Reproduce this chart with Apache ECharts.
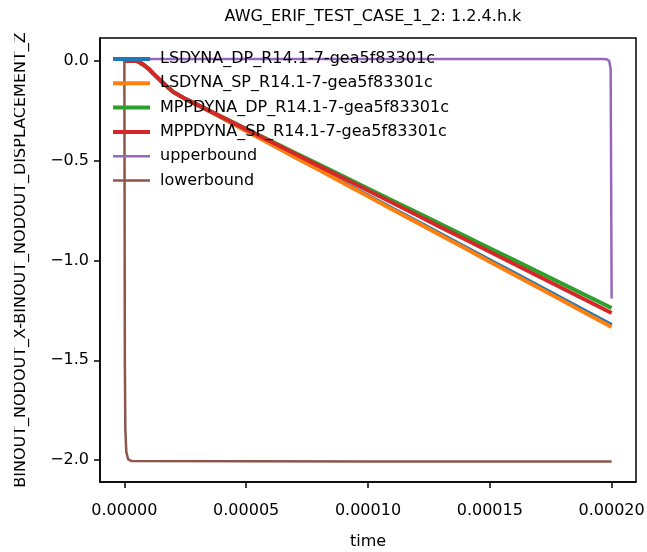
<!DOCTYPE html>
<html>
<head>
<meta charset="utf-8">
<script src="https://cdn.jsdelivr.net/npm/echarts@6/dist/echarts.min.js"></script>
<style>html,body{margin:0;padding:0;background:#fff;}#c{width:647px;height:552px;}</style>
</head>
<body>
<div id="c"></div>
<script>
// ---- data ----
const seriesNames = ["LSDYNA_DP_R14.1-7-gea5f83301c", "LSDYNA_SP_R14.1-7-gea5f83301c", "MPPDYNA_DP_R14.1-7-gea5f83301c", "MPPDYNA_SP_R14.1-7-gea5f83301c", "upperbound", "lowerbound"];
const tMain = [0, 2e-6, 4e-6, 5e-6, 6e-6, 8e-6, 1e-5, 1.2e-5, 1.5e-5, 2e-5, 2.5e-5, 3e-5,
  4e-5, 5e-5, 6e-5, 7e-5, 8e-5, 9e-5, 1e-4, 1.1e-4, 1.2e-4, 1.3e-4, 1.4e-4, 1.5e-4, 1.6e-4, 1.7e-4, 1.8e-4, 1.9e-4, 2e-4];
const lsdynaDP = [0, 0, 0, 0, -0.005, -0.02, -0.04, -0.065, -0.1, -0.155, -0.19, -0.22,
  -0.285, -0.350, -0.415, -0.480, -0.544, -0.609, -0.674, -0.739, -0.804, -0.869, -0.934, -0.999, -1.063, -1.128, -1.193, -1.258, -1.323];
const lsdynaSP = [0, 0, 0, 0, -0.005, -0.02, -0.04, -0.065, -0.1, -0.155, -0.19, -0.22,
  -0.285, -0.351, -0.416, -0.482, -0.547, -0.613, -0.678, -0.744, -0.809, -0.875, -0.940, -1.006, -1.071, -1.137, -1.202, -1.268, -1.333];
const mppdynaDP = [0, 0, 0, 0, -0.005, -0.02, -0.04, -0.065, -0.1, -0.155, -0.19, -0.22,
  -0.280, -0.340, -0.400, -0.460, -0.519, -0.579, -0.639, -0.699, -0.759, -0.819, -0.879, -0.939, -0.998, -1.058, -1.118, -1.178, -1.238];
const mppdynaSP = [0, 0, 0, 0, -0.005, -0.02, -0.04, -0.065, -0.1, -0.155, -0.19, -0.22,
  -0.281, -0.343, -0.404, -0.465, -0.527, -0.588, -0.649, -0.711, -0.772, -0.834, -0.895, -0.956, -1.018, -1.079, -1.140, -1.202, -1.263];
const tUpper = [0, 1e-4, 1.96e-4, 1.98e-4, 1.99e-4, 1.996e-4, 2e-4];
const upper = [0.01, 0.01, 0.01, 0.009, 0.0, -0.04, -1.19];
const tLower = [0, 2e-7, 4e-7, 8e-7, 1.5e-6, 3e-6, 1e-4, 2e-4];
const lower = [0, -1.5, -1.85, -1.96, -1.995, -2.005, -2.007, -2.007];
const xTicks = [0, 5e-5, 1e-4, 1.5e-4, 2e-4];
const yTicks = [0, -0.5, -1.0, -1.5, -2.0];
const titleText = "AWG_ERIF_TEST_CASE_1_2: 1.2.4.h.k";
const xName = "time";
const yName = "BINOUT_NODOUT_X-BINOUT_NODOUT_DISPLACEMENT_Z";

// ---- chart ----
const colors = ["#1f77b4", "#ff7f0e", "#2ca02c", "#d62728", "#9467bd", "#8c564b"];
const pair = (ts, vs) => ts.map((t, i) => [t, vs[i]]);
const datasets = [pair(tMain, lsdynaDP), pair(tMain, lsdynaSP), pair(tMain, mppdynaDP), pair(tMain, mppdynaSP), pair(tUpper, upper), pair(tLower, lower)];
const widths = [4, 4, 4, 4, 2.5, 2.5];
// legend handle: a horizontal band inside a 37x16 box (the bare moves keep the box size)
const bandIcon = w => 'path://M0,0 M0,' + (8 - w / 2) + ' L37,' + (8 - w / 2) + ' L37,' + (8 + w / 2) + ' L0,' + (8 + w / 2) + ' Z M37,16';
const font = "DejaVu Sans";
const fs = 16;
const chart = echarts.init(document.getElementById('c'), null, {renderer: 'canvas'});
chart.setOption({
  animation: false,
  backgroundColor: '#fff',
  textStyle: {fontFamily: font},
  title: {text: titleText, left: 368, top: 4, textAlign: 'center',
    textStyle: {fontFamily: font, fontSize: fs, fontWeight: 'normal', color: '#000'}},
  grid: {left: 100, right: 11, top: 38, bottom: 70, containLabel: false, outerBoundsMode: 'none',
    show: true, borderColor: '#000', borderWidth: 1.5, backgroundColor: 'transparent'},
  legend: {
    orient: 'vertical', left: 113, top: 51, padding: 0, itemWidth: 37, itemHeight: 16, itemGap: 8.3,
    data: seriesNames.map((n, i) => ({name: n, icon: bandIcon(widths[i])})),
    textStyle: {fontFamily: font, fontSize: fs, color: '#000', lineHeight: 16, padding: [0, 0, 0, 5]}
  },
  graphic: [{type: 'rect', left: 0, top: 0, shape: {width: 14, height: 552}, style: {fill: '#fff'}, z: 100}],
  xAxis: {
    type: 'value', min: -1e-5, max: 2.1e-4,
    name: xName, nameLocation: 'middle', nameGap: 52,
    nameTextStyle: {fontFamily: font, fontSize: fs, color: '#000'},
    axisLine: {show: true, onZero: false, lineStyle: {color: '#000', width: 1.5}},
    axisTick: {show: true, length: 6, lineStyle: {color: '#000', width: 1.5}, customValues: xTicks},
    axisLabel: {show: true, margin: 21, fontFamily: font, fontSize: fs, color: '#000', customValues: xTicks,
      formatter: v => (v < 0 ? '\u2212' : '') + Math.abs(v).toFixed(5)},
    splitLine: {show: false}
  },
  yAxis: {
    type: 'value', min: -2.11, max: 0.115,
    name: yName, nameLocation: 'middle', nameGap: 71, nameRotate: 90,
    nameTextStyle: {fontFamily: font, fontSize: fs, color: '#000'},
    axisLine: {show: true, onZero: false, lineStyle: {color: '#000', width: 1.5}},
    axisTick: {show: true, length: 6, lineStyle: {color: '#000', width: 1.5}, customValues: yTicks},
    axisLabel: {show: true, margin: 11, fontFamily: font, fontSize: fs, color: '#000', customValues: yTicks,
      formatter: v => (v < 0 ? '\u2212' : '') + Math.abs(v).toFixed(1)},
    splitLine: {show: false}
  },
  series: seriesNames.map((n, i) => ({
    name: n, type: 'line', data: datasets[i], symbol: 'none', showSymbol: false,
    color: colors[i], lineStyle: {color: colors[i], width: widths[i], cap: 'butt', join: 'round'},
    clip: true, z: 2
  }))
});
</script>
</body>
</html>
